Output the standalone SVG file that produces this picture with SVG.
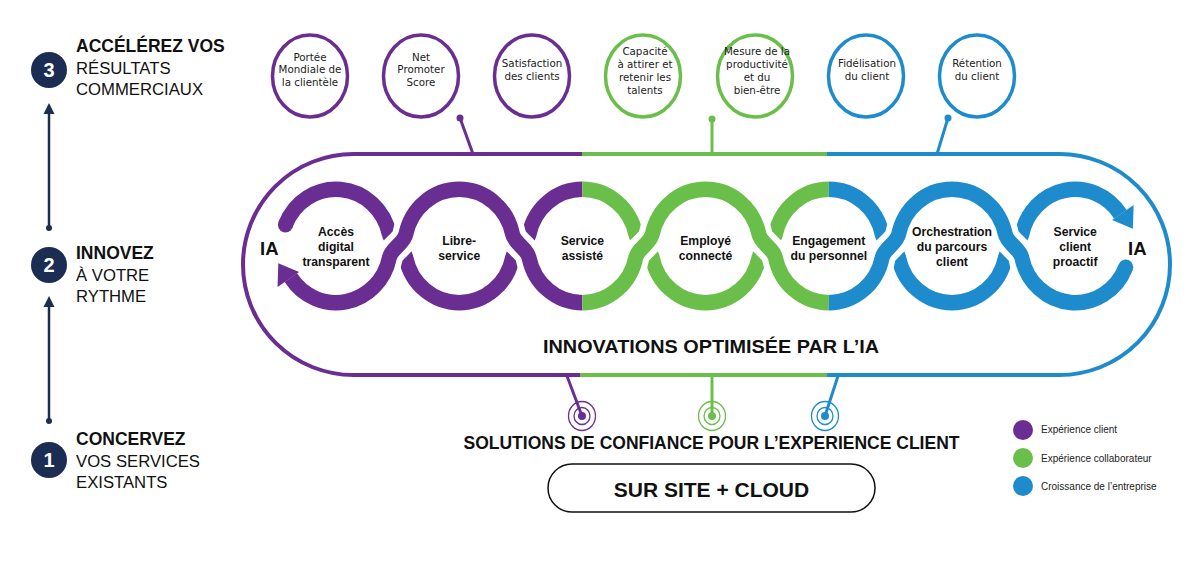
<svg xmlns="http://www.w3.org/2000/svg" width="1200" height="570" viewBox="0 0 1200 570">
<style>
.bg{fill:#ffffff}
.navy{fill:#1b2d52}
.navyS{stroke:#1b2d52;stroke-width:2.5;fill:none}
.hb{font-family:"Liberation Sans",Arial,sans-serif;font-weight:bold;fill:#111}
.hr{font-family:"Liberation Sans",Arial,sans-serif;fill:#111}
.num{font-family:"Liberation Sans",Arial,sans-serif;font-weight:bold;fill:#fff;font-size:20px}
.kpi{font-family:"DejaVu Sans",Verdana,sans-serif;font-size:10.3px;fill:#222;text-anchor:middle}
.lbl{font-family:"Liberation Sans",Arial,sans-serif;font-weight:bold;font-size:12.2px;fill:#111;text-anchor:middle}
.pS{stroke:#6a2d91}
.gS{stroke:#6abf4b}
.bS{stroke:#1e8ccc}
.pF{fill:#6a2d91}
.gF{fill:#6abf4b}
.bF{fill:#1e8ccc}
.ring{fill:none;stroke-width:3.5}
.border{fill:none;stroke-width:4}
.conn{fill:none;stroke-width:3}
.band{fill:none;stroke-width:15}
.casing{fill:none;stroke:#fff;stroke-width:27}
.tgt{fill:none;stroke-width:1.3}
.leg{font-family:"Liberation Sans",Arial,sans-serif;font-size:10px;fill:#222}
</style>
<rect class="bg" x="0" y="0" width="1200" height="570"/>

<!-- left steps -->
<g id="steps-arrows">
  <line class="navyS" x1="49" y1="228" x2="49" y2="112"/>
  <polygon class="navy" points="49,103 43.5,114 54.5,114"/>
  <circle class="navy" cx="49" cy="228" r="3"/>
  <line class="navyS" x1="49" y1="421" x2="49" y2="305"/>
  <polygon class="navy" points="49,296 43.5,307 54.5,307"/>
  <circle class="navy" cx="49" cy="421" r="3"/>
</g>
<g id="step3">
  <circle class="navy" cx="49" cy="70" r="18"/>
  <text class="num" x="49" y="77" text-anchor="middle">3</text>
  <text class="hb" x="76" y="52" font-size="17.5">ACCÉLÉREZ VOS</text>
  <text class="hr" x="76" y="73.5" font-size="16.7">RÉSULTATS</text>
  <text class="hr" x="76" y="94.5" font-size="16.7">COMMERCIAUX</text>
</g>
<g id="step2">
  <circle class="navy" cx="49" cy="265" r="18"/>
  <text class="num" x="49" y="272" text-anchor="middle">2</text>
  <text class="hb" x="76" y="259" font-size="17.5">INNOVEZ</text>
  <text class="hr" x="76" y="281" font-size="16.7">À VOTRE</text>
  <text class="hr" x="76" y="302" font-size="16.7">RYTHME</text>
</g>
<g id="step1">
  <circle class="navy" cx="49" cy="460" r="18"/>
  <text class="num" x="49" y="467" text-anchor="middle">1</text>
  <text class="hb" x="76" y="445" font-size="17.5">CONCERVEZ</text>
  <text class="hr" x="76" y="466.5" font-size="16.7">VOS SERVICES</text>
  <text class="hr" x="76" y="487.5" font-size="16.7">EXISTANTS</text>
</g>

<!-- KPI circles -->
<g id="kpi-portee">
  <ellipse class="ring pS" cx="310" cy="76" rx="37.5" ry="41"/>
  <text class="kpi" x="310" y="60.5">Portée</text>
  <text class="kpi" x="310" y="73">Mondiale de</text>
  <text class="kpi" x="310" y="85.5">la clientèle</text>
</g>
<g id="kpi-nps">
  <ellipse class="ring pS" cx="421" cy="76" rx="37.5" ry="41"/>
  <text class="kpi" x="421" y="60.5">Net</text>
  <text class="kpi" x="421" y="73">Promoter</text>
  <text class="kpi" x="421" y="85.5">Score</text>
</g>
<g id="kpi-satisfaction">
  <ellipse class="ring pS" cx="532" cy="76" rx="37.5" ry="41"/>
  <text class="kpi" x="532" y="67">Satisfaction</text>
  <text class="kpi" x="532" y="79.5">des clients</text>
</g>
<g id="kpi-capacite">
  <ellipse class="ring gS" cx="643" cy="76" rx="37.5" ry="41"/>
  <text class="kpi" x="645" y="55.4">Capacité</text>
  <text class="kpi" x="645" y="68.4">à attirer et</text>
  <text class="kpi" x="645" y="81.4">retenir les</text>
  <text class="kpi" x="645" y="94.4">talents</text>
</g>
<g id="kpi-mesure">
  <ellipse class="ring gS" cx="755" cy="76" rx="37.5" ry="41"/>
  <text class="kpi" x="757" y="55.4">Mesure de la</text>
  <text class="kpi" x="757" y="68.4">productivité</text>
  <text class="kpi" x="757" y="81.4">et du</text>
  <text class="kpi" x="757" y="94.4">bien-être</text>
</g>
<g id="kpi-fidelisation">
  <ellipse class="ring bS" cx="866" cy="76" rx="37.5" ry="41"/>
  <text class="kpi" x="867" y="67">Fidélisation</text>
  <text class="kpi" x="867" y="79.5">du client</text>
</g>
<g id="kpi-retention">
  <ellipse class="ring bS" cx="977" cy="76" rx="37.5" ry="41"/>
  <text class="kpi" x="977" y="67">Rétention</text>
  <text class="kpi" x="977" y="79.5">du client</text>
</g>

<!-- connectors -->
<g id="connectors">
  <line class="conn pS" x1="460" y1="118" x2="473" y2="154"/>
  <circle class="pF" cx="460" cy="118" r="3.5"/>
  <line class="conn gS" x1="712" y1="119" x2="712" y2="154"/>
  <circle class="gF" cx="712" cy="119" r="3.5"/>
  <line class="conn bS" x1="948" y1="118" x2="937" y2="154"/>
  <circle class="bF" cx="948" cy="118" r="3.5"/>

  <line class="conn pS" x1="567" y1="376" x2="582" y2="416"/>
  <line class="conn gS" x1="712" y1="376" x2="712" y2="416"/>
  <line class="conn bS" x1="838" y1="376" x2="825" y2="416"/>
</g>

<!-- stadium border -->
<g id="innovation-frame">
  <path class="border pS" d="M582 154 L353.5 154 A110.5 110.5 0 0 0 353.5 375 L580 375"/>
  <path class="border gS" d="M582 154 L827 154 M580 375 L827 375"/>
  <path class="border bS" d="M827 154 L1059.5 154 A110.5 110.5 0 0 1 1059.5 375 L827 375"/>
  <text class="hb" x="711" y="353" font-size="19" text-anchor="middle" textLength="336" lengthAdjust="spacingAndGlyphs">INNOVATIONS OPTIMISÉE PAR L’IA</text>
</g>

<!-- chain of loops -->
<g id="chain" transform="translate(0,246) scale(1,1.04) translate(0,-246)">
  <!-- under band (path B) -->
  <path class="band pS" d="M285.47 225.58 A54.5 54.5 0 0 1 389.31 234.67 C391.18 243.47 404.02 248.53 405.89 257.33 A54.5 54.5 0 0 0 512.51 257.33 C514.38 248.53 527.22 243.47 529.09 234.67 A54.5 54.5 0 0 1 582.4 191.5"/>
  <path class="band gS" d="M582.4 191.5 A54.5 54.5 0 0 1 635.71 234.67 C637.58 243.47 650.42 248.53 652.29 257.33 A54.5 54.5 0 0 0 758.91 257.33 C760.78 248.53 773.62 243.47 775.49 234.67 A54.5 54.5 0 0 1 828.8 191.5"/>
  <path class="band bS" d="M828.8 191.5 A54.5 54.5 0 0 1 882.11 234.67 C883.98 243.47 896.82 248.53 898.69 257.33 A54.5 54.5 0 0 0 1005.31 257.33 C1007.18 248.53 1020.02 243.47 1021.89 234.67 A54.5 54.5 0 0 1 1120.38 215.52"/>
  <circle class="pF" cx="285.47" cy="225.58" r="7.5"/>
  <!-- white casing of over band -->
  <path class="casing" d="M290.82 276.48 A54.5 54.5 0 0 0 389.31 257.33 C391.18 248.53 404.02 243.47 405.89 234.67 A54.5 54.5 0 0 1 512.51 234.67 C514.38 243.47 527.22 248.53 529.09 257.33 A54.5 54.5 0 0 0 635.71 257.33 C637.58 248.53 650.42 243.47 652.29 234.67 A54.5 54.5 0 0 1 758.91 234.67 C760.78 243.47 773.62 248.53 775.49 257.33 A54.5 54.5 0 0 0 882.11 257.33 C883.98 248.53 896.82 243.47 898.69 234.67 A54.5 54.5 0 0 1 1005.31 234.67 C1007.18 243.47 1020.02 248.53 1021.89 257.33 A54.5 54.5 0 0 0 1125.73 266.42"/>
  <!-- over band (path A) -->
  <path class="band pS" d="M290.82 276.48 A54.5 54.5 0 0 0 389.31 257.33 C391.18 248.53 404.02 243.47 405.89 234.67 A54.5 54.5 0 0 1 512.51 234.67 C514.38 243.47 527.22 248.53 529.09 257.33 A54.5 54.5 0 0 0 582.4 300.5"/>
  <path class="band gS" d="M582.4 300.5 A54.5 54.5 0 0 0 635.71 257.33 C637.58 248.53 650.42 243.47 652.29 234.67 A54.5 54.5 0 0 1 758.91 234.67 C760.78 243.47 773.62 248.53 775.49 257.33 A54.5 54.5 0 0 0 828.8 300.5"/>
  <path class="band bS" d="M828.8 300.5 A54.5 54.5 0 0 0 882.11 257.33 C883.98 248.53 896.82 243.47 898.69 234.67 A54.5 54.5 0 0 1 1005.31 234.67 C1007.18 243.47 1020.02 248.53 1021.89 257.33 A54.5 54.5 0 0 0 1125.73 266.42"/>
  <circle class="bF" cx="1125.73" cy="266.42" r="7.5"/>
  <!-- arrowheads -->
  <polygon class="pF" points="277.56,285.43 299.11,270.89 278.3,262.5"/>
  <polygon class="bF" points="1133.64,206.57 1112.09,221.11 1132.88,229.46"/>
</g>

<g id="ia-left"><text class="hb" x="260" y="255" font-size="18.5">IA</text></g>
<g id="ia-right"><text class="hb" x="1128" y="255" font-size="18.5">IA</text></g>

<g id="node-acces">
  <text class="lbl" x="336" y="236">Accès</text>
  <text class="lbl" x="336" y="251">digital</text>
  <text class="lbl" x="336" y="266">transparent</text>
</g>
<g id="node-libre">
  <text class="lbl" x="459.2" y="245">Libre-</text>
  <text class="lbl" x="459.2" y="259.5">service</text>
</g>
<g id="node-assiste">
  <text class="lbl" x="582.4" y="245">Service</text>
  <text class="lbl" x="582.4" y="259.5">assisté</text>
</g>
<g id="node-employe">
  <text class="lbl" x="705.6" y="245">Employé</text>
  <text class="lbl" x="705.6" y="259.5">connecté</text>
</g>
<g id="node-engagement">
  <text class="lbl" x="828.8" y="245">Engagement</text>
  <text class="lbl" x="828.8" y="259.5">du personnel</text>
</g>
<g id="node-orchestration">
  <text class="lbl" x="952" y="236">Orchestration</text>
  <text class="lbl" x="952" y="251">du parcours</text>
  <text class="lbl" x="952" y="266">client</text>
</g>
<g id="node-proactif">
  <text class="lbl" x="1075.2" y="236">Service</text>
  <text class="lbl" x="1075.2" y="251">client</text>
  <text class="lbl" x="1075.2" y="266">proactif</text>
</g>

<!-- targets -->
<g id="target-purple">
  <ellipse class="tgt pS" cx="582" cy="416" rx="13.5" ry="14.5"/>
  <ellipse class="tgt pS" cx="582" cy="416" rx="8" ry="8.5"/>
  <circle class="pF" cx="582" cy="416" r="4"/>
</g>
<g id="target-green">
  <ellipse class="tgt gS" cx="712" cy="416" rx="13.5" ry="14.5"/>
  <ellipse class="tgt gS" cx="712" cy="416" rx="8" ry="8.5"/>
  <circle class="gF" cx="712" cy="416" r="4"/>
</g>
<g id="target-blue">
  <ellipse class="tgt bS" cx="825" cy="416" rx="13.5" ry="14.5"/>
  <ellipse class="tgt bS" cx="825" cy="416" rx="8" ry="8.5"/>
  <circle class="bF" cx="825" cy="416" r="4"/>
</g>

<g id="solutions">
  <text class="hb" x="711.5" y="448.5" font-size="17.5" text-anchor="middle" textLength="496" lengthAdjust="spacingAndGlyphs">SOLUTIONS DE CONFIANCE POUR L’EXPERIENCE CLIENT</text>
</g>
<g id="onsite-cloud">
  <rect x="548" y="464" width="327" height="48" rx="24" ry="24" fill="#fff" stroke="#111" stroke-width="1.5"/>
  <text class="hb" x="711.5" y="497" font-size="21" text-anchor="middle">SUR SITE + CLOUD</text>
</g>

<!-- legend -->
<g id="legend">
  <circle class="pF" cx="1023" cy="430" r="10"/>
  <text class="leg" x="1041" y="433">Expérience client</text>
  <circle class="gF" cx="1023" cy="458" r="10"/>
  <text class="leg" x="1041" y="461.5">Expérience collaborateur</text>
  <circle class="bF" cx="1023" cy="486" r="10"/>
  <text class="leg" x="1041" y="490">Croissance de l’entreprise</text>
</g>
</svg>
